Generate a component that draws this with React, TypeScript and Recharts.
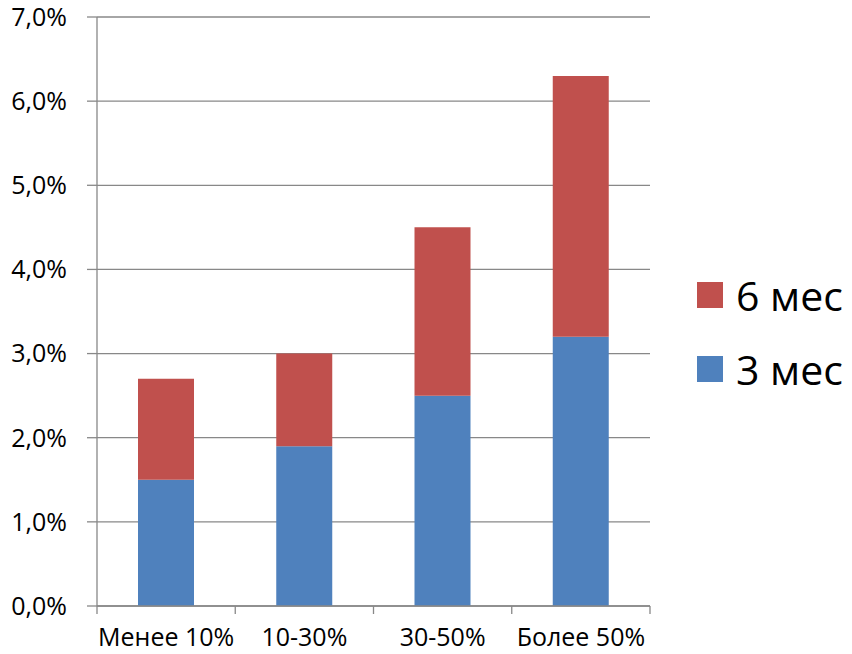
import { BarChart, Bar, XAxis, YAxis, CartesianGrid, Legend } from 'recharts';

const categories = ['Менее 10%', '10-30%', '30-50%', 'Более 50%'];
const threeMonths = [1.5, 1.9, 2.5, 3.2];
const sixMonths = [1.2, 1.1, 2.0, 3.1];
const yTicks = [0, 1, 2, 3, 4, 5, 6, 7];

const data = categories.map((name, i) => ({
  name,
  m3: threeMonths[i],
  m6: sixMonths[i],
}));

const FONT = '"Open Sans", "Noto Sans", sans-serif';
const GRID = '#888';

// category label plus Excel-style tick marks on the category boundaries
const CategoryTick = (props: any) => {
  const { x, y, payload, index, width, visibleTicksCount } = props;
  const half = width / visibleTicksCount / 2;
  return (
    <g>
      <line x1={x - half} x2={x - half} y1={y} y2={y + 8} stroke={GRID} strokeWidth={1.3} />
      {index === visibleTicksCount - 1 && (
        <line x1={x + half} x2={x + half} y1={y} y2={y + 8} stroke={GRID} strokeWidth={1.3} />
      )}
      <text x={x} y={y + 40} textAnchor="middle" fill="#000" fontSize={25} fontFamily={FONT}>
        {payload.value}
      </text>
    </g>
  );
};

// Legend lists 6 мес above 3 мес, like the source
const renderLegend = (props: any) => {
  const items = [...(props.payload || [])].reverse();
  return (
    <div style={{ fontFamily: FONT }}>
      {items.map((item: any) => (
        <div key={item.value} style={{ display: 'flex', alignItems: 'center', height: 40, marginBottom: 34 }}>
          <div style={{ width: 26, height: 26, flexShrink: 0, background: item.color, marginRight: 13 }} />
          <span style={{ fontSize: 41, color: '#000', lineHeight: '40px' }}>{item.value}</span>
        </div>
      ))}
    </div>
  );
};

export default function App() {
  return (
    <div style={{ position: 'absolute', left: 0, top: 0, background: '#fff' }}>
      <BarChart
        width={852}
        height={654}
        data={data}
        margin={{ top: 17, right: 202, left: 0, bottom: 0 }}
        barSize={56}
      >
        <CartesianGrid vertical={false} stroke={GRID} strokeWidth={1.3} />
        <XAxis
          dataKey="name"
          axisLine={{ stroke: GRID, strokeWidth: 1.3 }}
          tickLine={false}
          tickSize={0}
          tickMargin={0}
          height={48}
          interval={0}
          tick={<CategoryTick />}
        />
        <YAxis
          width={97}
          domain={[0, 7]}
          ticks={yTicks}
          interval={0}
          axisLine={{ stroke: GRID, strokeWidth: 1.3 }}
          tickLine={{ stroke: GRID, strokeWidth: 1.3 }}
          tickSize={10}
          tickMargin={20}
          tickFormatter={(v: number) => v.toFixed(1).replace('.', ',') + '%'}
          tick={{ fill: '#000', fontSize: 25, fontFamily: FONT }}
        />
        <Legend
          layout="vertical"
          align="right"
          verticalAlign="middle"
          content={renderLegend}
          wrapperStyle={{ left: 697, top: 275, width: 0, overflow: 'visible', whiteSpace: 'nowrap' }}
        />
        <Bar dataKey="m3" name="3 мес" stackId="a" fill="#4F81BD" isAnimationActive={false} />
        <Bar dataKey="m6" name="6 мес" stackId="a" fill="#C0504D" isAnimationActive={false} />
      </BarChart>
    </div>
  );
}
